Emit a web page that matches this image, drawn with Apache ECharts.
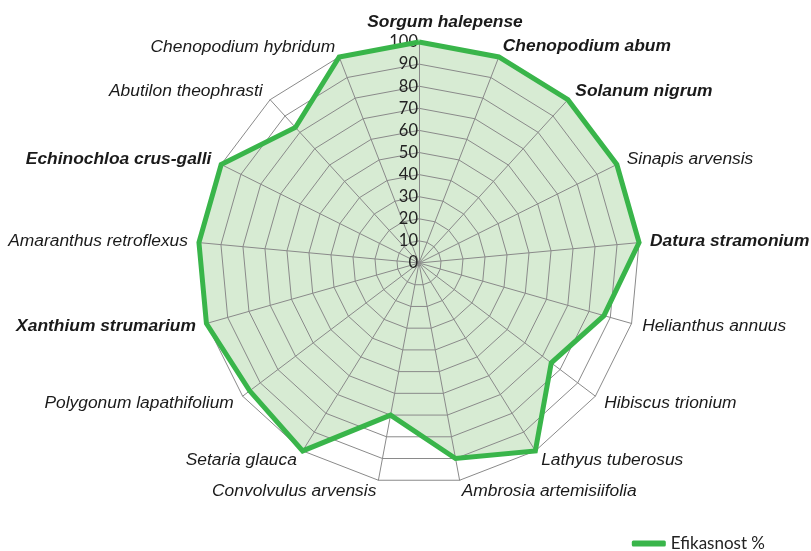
<!DOCTYPE html>
<html><head><meta charset="utf-8">
<script src="https://cdn.jsdelivr.net/npm/echarts@6/dist/echarts.min.js"></script>
<style>html,body{margin:0;padding:0;background:#fff}#c{width:811px;height:551px}</style>
</head><body><div id="c"></div>
<script>
// Clockwise from top
const categories = ['Sorgum halepense','Chenopodium abum','Solanum nigrum','Sinapis arvensis','Datura stramonium','Helianthus annuus','Hibiscus trionium','Lathyus tuberosus','Ambrosia artemisiifolia','Convolvulus arvensis','Setaria glauca','Polygonum lapathifolium','Xanthium strumarium','Amaranthus retroflexus','Echinochloa crus-galli','Abutilon theophrasti','Chenopodium hybridum'];
const boldCategories = ['Sorgum halepense','Chenopodium abum','Solanum nigrum','Datura stramonium','Xanthium strumarium','Echinochloa crus-galli'];
const efikasnost = [100,100,100,100,100,87,75,100,90,70,100,96,100,100,100,83,100];
const tickLabels = ['0','10','20','30','40','50','60','70','80','90','100'];
const seriesName = 'Efikasnost %';

// ECharts radar places indicators counter-clockwise; reverse all but first
const order = [0].concat(categories.map((_, i) => i).slice(1).reverse());
const indicators = order.map((i, k) => {
  const o = { name: categories[i], min: 0, max: 100 };
  if (k === 0) o.axisLabel = { show: true };
  return o;
});
const values = order.map(i => efikasnost[i]);

const chart = echarts.init(document.getElementById('c'));
const fs = 17.4;
chart.setOption({
  animation: false,
  legend: {
    data: [seriesName], right: 41, top: 530, itemWidth: 34, itemHeight: 6, icon: 'roundRect', itemGap: 4,
    textStyle: { fontFamily: 'Lato', fontSize: 17, color: '#222' }
  },
  radar: {
    z: 2,
    center: [419, 263], radius: 221, startAngle: 90, shape: 'polygon', splitNumber: 10,
    axisName: {
      formatter: (n) => boldCategories.includes(n) ? (n === categories[0] ? '{t|' + n + '}' : '{b|' + n + '}') : '{n|' + n + '}',
      rich: {
        n: { fontFamily: 'Liberation Sans', fontStyle: 'italic', fontSize: fs, color: '#1a1a1a' },
        b: { fontFamily: 'Liberation Sans', fontStyle: 'italic', fontWeight: 'bold', fontSize: fs, color: '#1a1a1a' },
        t: { fontFamily: 'Liberation Sans', fontStyle: 'italic', fontWeight: 'bold', fontSize: fs, color: '#1a1a1a', padding: [0, 0, 0, 52] }
      }
    },
    nameGap: 11,
    indicator: indicators,
    axisLine: { lineStyle: { color: '#8a8a8a', width: 1 } },
    splitLine: { lineStyle: { color: '#8a8a8a', width: 1 } },
    splitArea: { show: false },
    axisTick: { show: false },
    axisLabel: {
      show: false, fontFamily: 'Lato', fontSize: 16.5, color: '#222', margin: 1,
      formatter: (v) => tickLabels[Math.round(v / 10)] ?? ''
    }
  },
  series: [{
    name: seriesName, type: 'radar', symbol: 'none', z: 1, silent: true,
    lineStyle: { width: 0, opacity: 0 },
    itemStyle: { color: '#39b54a' },
    areaStyle: { color: '#d7ebd3', opacity: 1 },
    data: [{ value: values, name: seriesName }]
  }, {
    name: seriesName, type: 'radar', symbol: 'none', z: 3,
    lineStyle: { color: '#39b54a', width: 5, join: 'miter' },
    itemStyle: { color: '#39b54a' },
    data: [{ value: values, name: seriesName }]
  }]
});
</script></body></html>
